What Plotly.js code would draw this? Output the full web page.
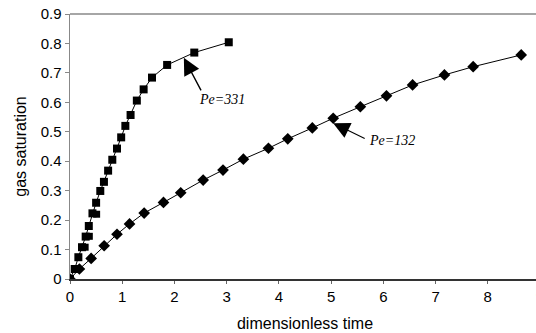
<!DOCTYPE html>
<html>
<head>
<meta charset="utf-8">
<script src="https://cdn.plot.ly/plotly-3.0.1.min.js"></script>
<style>
html,body{margin:0;padding:0;overflow:hidden;background:#fff;}
#chart{width:545px;height:333px;}
</style>
</head>
<body>
<div id="chart"></div>
<script>
// Pe = 331 (squares)
const t331 = [0, 0.09, 0.16, 0.23, 0.30, 0.36, 0.43, 0.50, 0.58, 0.65, 0.73, 0.81, 0.90, 0.98, 1.06, 1.16, 1.28, 1.41, 1.57, 1.86, 2.38, 3.04];
const s331 = [0, 0.034, 0.074, 0.108, 0.144, 0.18, 0.223, 0.259, 0.299, 0.33, 0.368, 0.405, 0.443, 0.481, 0.52, 0.557, 0.606, 0.644, 0.684, 0.727, 0.769, 0.804];
// overlapping extra markers near the origin
const tExtra = [0.29, 0.37, 0.51];
const sExtra = [0.108, 0.145, 0.22];
// Pe = 132 (diamonds)
const t132 = [0, 0.18, 0.405, 0.654, 0.90, 1.14, 1.42, 1.79, 2.12, 2.55, 2.93, 3.32, 3.80, 4.17, 4.64, 5.04, 5.56, 6.06, 6.56, 7.17, 7.72, 8.64];
const s132 = [0, 0.034, 0.070, 0.113, 0.152, 0.187, 0.224, 0.26, 0.293, 0.336, 0.370, 0.407, 0.444, 0.476, 0.513, 0.546, 0.585, 0.622, 0.659, 0.693, 0.721, 0.761];
const yTicks = [0, 0.1, 0.2, 0.3, 0.4, 0.5, 0.6, 0.7, 0.8, 0.9];
const xTicks = [0, 1, 2, 3, 4, 5, 6, 7, 8, 9];

const traces = [
  {x: t132, y: s132, mode: 'lines+markers', type: 'scatter',
   line: {color: '#000', width: 1}, marker: {symbol: 'diamond', size: 9, color: '#000'}},
  {x: t331, y: s331, mode: 'lines+markers', type: 'scatter',
   line: {color: '#000', width: 1}, marker: {symbol: 'square', size: 8, color: '#000'}},
  {x: tExtra, y: sExtra, mode: 'markers', type: 'scatter',
   marker: {symbol: 'square', size: 7, color: '#000'}}
];

const layout = {
  width: 545, height: 333,
  margin: {l: 70, r: 4.5, t: 14, b: 54},
  showlegend: false,
  paper_bgcolor: '#fff', plot_bgcolor: '#fff',
  font: {family: 'Liberation Sans, Arial, sans-serif', size: 15, color: '#000'},
  xaxis: {
    range: [0, 9], tickvals: xTicks, ticktext: xTicks.map(String),
    showgrid: false, zeroline: false, showline: true, linecolor: '#333', linewidth: 1.5,
    ticks: 'outside', ticklen: 3, tickcolor: '#666', tickwidth: 1,
    tickfont: {size: 15},
    title: {text: 'dimensionless time', font: {size: 16}, standoff: 14}
  },
  yaxis: {
    range: [0, 0.9], tickvals: yTicks, ticktext: yTicks.map(String),
    showgrid: false, zeroline: false, showline: true, linecolor: '#888', linewidth: 1.5,
    ticks: 'outside', ticklen: 4, tickcolor: '#888', tickwidth: 1,
    tickfont: {size: 15},
    title: {text: 'gas saturation', font: {size: 16}, standoff: 10}
  },
  shapes: [
    {type: 'line', xref: 'paper', yref: 'paper', x0: 0, x1: 1, y0: 1, y1: 1,
     line: {color: '#888', width: 1.5}}
  ],
  annotations: [
    {x: 2.18, y: 0.751, xref: 'x', yref: 'y', ax: 18, ay: 34, text: '',
     showarrow: true, arrowhead: 2, arrowsize: 2.4, arrowwidth: 1.4, arrowcolor: '#000'},
    {x: 2.91, y: 0.608, xref: 'x', yref: 'y', text: '<i>Pe=331</i>', showarrow: false,
     font: {family: 'Liberation Serif, Times New Roman, serif', size: 14, color: '#000'}},
    {x: 5.04, y: 0.529, xref: 'x', yref: 'y', ax: 33, ay: 16, text: '',
     showarrow: true, arrowhead: 2, arrowsize: 3, arrowwidth: 1.1, arrowcolor: '#000'},
    {x: 6.16, y: 0.47, xref: 'x', yref: 'y', text: '<i>Pe=132</i>', showarrow: false,
     font: {family: 'Liberation Serif, Times New Roman, serif', size: 14, color: '#000'}}
  ]
};

Plotly.newPlot('chart', traces, layout, {displayModeBar: false, staticPlot: true});
</script>
</body>
</html>
